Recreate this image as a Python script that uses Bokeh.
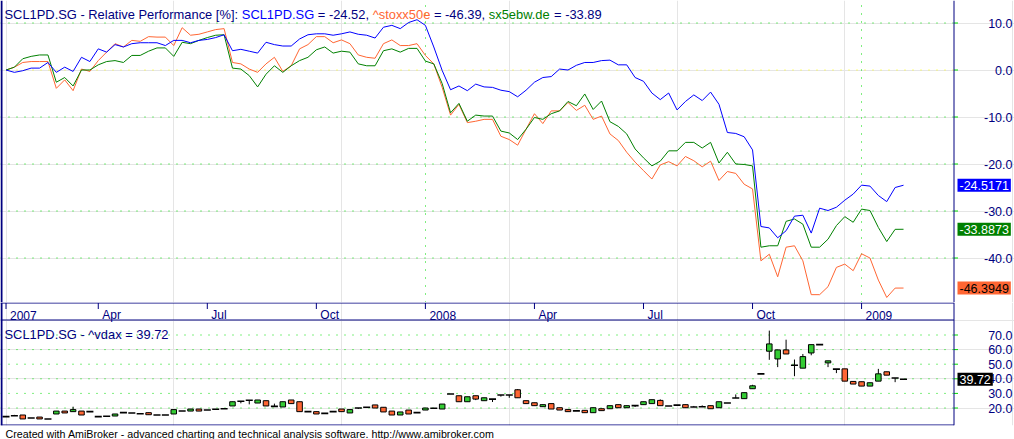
from bokeh.plotting import figure
from bokeh.models import (Range1d, FixedTicker, Span, Label, Grid,
                          ColumnDataSource, Title)
from bokeh.layouts import column
from bokeh.embed import file_html
from bokeh.resources import INLINE
from bokeh.core.properties import value

# ---------------- data ----------------
tick_idx = [0, 11, 24, 37, 50, 63, 76, 89, 102]
tick_labels = ["2007", "Apr", "Jul", "Oct", "2008", "Apr", "Jul", "Oct", "2009"]
year_idx = [50, 102]

perf_ticks = [10, 0, -10, -20, -30, -40]
vdax_ticks = [20, 30, 40, 50, 60, 70]

scl1pd = [0, -0.5, -0.15, 0.4, 0.4, 1.6, -0.5, 0.6, -0.3, 2.7,
          1.8, 4.5, 3.8, 5.4, 4.9, 5.6, 5.8, 5.8, 5.8, 5.2,
          6.3, 6.3, 5.8, 6.3, 6.5, 6.9, 7.5, 4.1, 4.4, 4.0,
          3.6, 5.9, 5.4, 5.1, 5.1, 6.6, 7.5, 7.7, 7.7, 7.4,
          7.7, 8.1, 7.6, 7.4, 6.8, 9.1, 9.5, 8.8, 10.1, 10.7,
          9.5, 4.9, -0.1, -4.2, -3.4, -4.4, -3.0, -3.6, -3.7, -4.3,
          -4.6, -5.7, -4.3, -2.6, -1.6, -1.4, 0.2, 0.0, 1.0, 1.6,
          1.6, 2.0, 2.1, 1.1, 1.1, -1.6, -2.4, -4.9, -6.3, -4.9,
          -8.5, -6.7, -5.3, -6.5, -4.7, -7.3, -13.3, -13.5, -14.2, -17.0,
          -33.3, -33.6, -35.7, -34.2, -31.1, -30.9, -34.7, -29.4, -29.9, -29.2,
          -27.7, -26.4, -24.5, -24.7, -26.7, -28.0, -25.0, -24.5171]

stoxx50e = [0, 0.6, 1.6, 1.8, 1.8, 1.8, -3.9, -2.1, -4.4, 0.2,
            -0.3, 2.0, 3.8, 5.6, 4.9, 6.3, 6.1, 7.1, 7.0, 7.0,
            5.2, 9.0, 7.4, 7.6, 8.1, 8.6, 8.8, 1.6, 1.3, 0.2,
            -0.5, 1.3, 2.7, -0.3, 0.9, 4.5, 5.4, 7.1, 7.1, 5.8,
            6.4, 5.6, 3.2, 2.7, 2.5, 5.6, 6.4, 5.2, 5.2, 5.6,
            3.1, 1.3, -3.7, -9.6, -7.3, -11.2, -10.9, -10.5, -10.5, -14.1,
            -14.8, -16.0, -12.6, -9.3, -11.4, -8.7, -8.7, -6.9, -8.6, -7.5,
            -10.5, -9.8, -13.6, -15.0, -17.5, -19.6, -21.4, -23.2, -20.2, -19.5,
            -20.4, -18.4, -19.3, -20.6, -19.4, -23.5, -21.6, -22.0, -24.3, -25.3,
            -40.6, -39.2, -44.0, -37.7, -37.4, -40.6, -47.8, -47.8, -46.1, -42.0,
            -41.3, -42.7, -39.1, -40.0, -44.7, -48.4, -46.4, -46.3949]

sx5ebw = [0, 0.6, 2.4, 2.9, 3.2, 3.2, -2.6, -1.6, -3.4, 0.0,
          0.0, 1.1, 1.8, 2.0, 1.6, 3.1, 3.1, 4.0, 4.7, 4.7,
          2.9, 5.9, 5.6, 6.3, 6.9, 7.4, 7.5, 0.4, 0.2, -1.2,
          -3.6, -0.9, 0.9, -0.5, 0.9, 2.0, 2.7, 4.3, 4.9, 3.6,
          4.0, 3.8, 1.3, 0.9, 0.9, 4.1, 4.5, 3.8, 4.6, 4.6,
          1.9, 1.3, -2.9, -9.1, -7.1, -10.9, -9.6, -9.8, -9.8, -13.0,
          -13.4, -14.8, -12.6, -10.1, -10.5, -9.3, -8.7, -6.7, -7.6, -5.1,
          -8.4, -6.6, -11.0, -12.0, -13.6, -16.8, -18.7, -20.4, -19.4, -17.2,
          -17.2, -15.4, -15.4, -16.6, -15.4, -19.8, -17.5, -20.0, -20.1, -20.4,
          -37.7, -37.4, -37.4, -32.2, -31.7, -32.8, -37.7, -37.7, -36.0, -33.1,
          -31.2, -32.4, -29.6, -29.9, -33.5, -36.5, -33.9, -33.8873]

vdax_open = [14.1, 14.7, 15.2, 13.2, 13.8, 12.5, 15.9, 17.9, 17.5, 17.9,
             17.5, 14.1, 14.3, 14.5, 16.8, 16.6, 16.1, 16.8, 15.2, 15.2,
             15.9, 17.9, 17.9, 19.3, 18.6, 19.1, 19.5, 21.4, 24.6, 25.3,
             23.4, 25.0, 21.1, 20.7, 25.5, 24.3, 17.5, 17.5, 16.3, 17.5,
             19.3, 16.6, 20.0, 20.5, 22.1, 20.5, 17.9, 15.2, 18.6, 16.8,
             18.6, 19.8, 19.3, 29.6, 28.4, 24.3, 28.4, 25.0, 26.1, 28.9,
             28.9, 32.5, 25.0, 23.6, 20.9, 23.0, 20.2, 18.9, 18.0, 18.4,
             16.8, 19.5, 19.5, 22.3, 20.2, 21.6, 22.3, 23.0, 25.2, 21.4,
             22.0, 22.3, 20.7, 20.9, 21.6, 20.2, 23.4, 26.8, 26.4, 33.2,
             43.4, 58.9, 53.6, 59.8, 49.3, 47.3, 57.7, 63.4, 50.9, 46.6,
             46.8, 38.2, 38.0, 35.0, 38.4, 44.8, 40.5, 39.72]
vdax_high = [14.1, 15.3, 15.2, 13.2, 13.8, 12.5, 17.9, 17.9, 20.9, 17.9,
             17.5, 14.1, 14.3, 15.9, 16.8, 16.6, 16.1, 16.8, 15.2, 15.2,
             18.9, 17.9, 19.3, 19.3, 18.6, 19.1, 19.5, 24.3, 24.6, 25.3,
             25.5, 25.0, 23.0, 24.3, 25.5, 24.3, 17.5, 17.5, 16.3, 17.5,
             19.3, 18.9, 20.0, 20.5, 22.1, 20.5, 17.9, 17.3, 18.6, 16.8,
             20.0, 19.8, 22.7, 29.6, 28.4, 27.7, 28.4, 27.0, 26.1, 28.9,
             28.9, 33.0, 25.0, 23.6, 22.3, 23.0, 20.2, 18.9, 18.0, 18.4,
             20.2, 19.5, 21.6, 22.3, 21.6, 21.6, 24.3, 25.7, 25.9, 21.4,
             22.0, 22.3, 21.4, 21.8, 21.6, 24.3, 23.4, 29.3, 30.5, 35.9,
             43.4, 73.0, 59.8, 66.8, 53.2, 57.0, 63.4, 63.4, 52.3, 46.6,
             46.8, 38.2, 38.0, 37.3, 46.8, 44.8, 40.5, 39.72]
vdax_low = [14.1, 14.7, 12.5, 13.2, 12.5, 12.5, 15.9, 16.6, 17.5, 15.2,
            17.5, 14.1, 14.3, 14.5, 16.8, 16.6, 16.1, 15.4, 15.2, 15.2,
            15.9, 17.9, 17.9, 17.9, 18.6, 19.1, 19.5, 21.4, 23.2, 22.5,
            23.4, 21.4, 21.1, 20.7, 23.0, 17.5, 17.5, 15.9, 16.3, 17.5,
            17.5, 16.6, 19.3, 20.5, 20.0, 17.3, 15.2, 15.2, 15.9, 16.8,
            18.6, 19.8, 19.3, 29.6, 24.3, 24.3, 25.4, 25.0, 24.1, 27.8,
            27.0, 27.0, 23.0, 21.6, 20.9, 19.3, 18.6, 17.5, 18.0, 16.8,
            16.8, 18.2, 19.5, 20.2, 20.2, 20.7, 22.3, 23.0, 21.6, 21.4,
            22.0, 20.2, 20.7, 20.9, 19.5, 20.2, 23.4, 26.8, 26.4, 33.2,
            43.4, 53.0, 48.0, 57.0, 41.8, 47.3, 56.1, 63.4, 48.0, 43.9,
            38.4, 36.4, 35.0, 35.0, 38.4, 42.5, 37.7, 39.72]
vdax_close = [14.1, 14.7, 12.5, 13.2, 12.5, 12.5, 17.9, 16.6, 18.9, 15.2,
              17.5, 14.1, 14.3, 15.9, 16.8, 16.6, 16.1, 15.4, 15.2, 15.2,
              18.9, 17.9, 19.3, 17.9, 18.6, 19.1, 19.5, 24.3, 24.6, 25.3,
              25.5, 21.4, 21.1, 24.3, 23.0, 17.5, 17.5, 15.9, 16.3, 17.5,
              17.5, 18.9, 20.0, 20.5, 20.0, 17.3, 15.2, 17.3, 15.9, 16.8,
              20.0, 19.8, 22.7, 29.6, 24.3, 27.7, 26.1, 27.0, 26.1, 28.9,
              28.9, 27.0, 23.0, 21.6, 22.3, 19.3, 18.6, 17.5, 18.0, 16.8,
              20.2, 18.2, 21.6, 20.2, 21.6, 21.6, 24.3, 25.7, 21.6, 21.4,
              22.0, 20.2, 20.7, 20.9, 19.5, 24.3, 23.4, 26.8, 30.5, 35.2,
              43.4, 63.9, 59.8, 57.0, 49.3, 55.2, 63.4, 63.4, 52.3, 46.6,
              38.4, 36.4, 35.0, 37.3, 43.4, 42.5, 40.5, 39.72]

# ---------------- styles / layout ----------------
NAVY = "#000080"
BLUE = "#0000FF"
ORANGE = "#FF6633"
DKGREEN = "#008000"
GRID = "#00DD00"
YELLOW = "#FFFF00"
UPFILL = "#33CC33"
FONT = "Liberation Sans"

W = 1014              # whole chart width
PXX = 8.388           # pixels per weekly bar
X_ORIGIN_PX = 5.5     # screen x of the first bar
BORDER_PX = 953.5     # screen x of the chart/scale border line
TOP_H = 302
STRIP_H = 17
PANE_H = 105
FOOT_H = 14

idx = list(range(len(scl1pd)))
X0 = -X_ORIGIN_PX / PXX
XEND = X0 + W / PXX
XR = Range1d(X0, XEND)
XB_LINE = X0 + BORDER_PX / PXX
X_LEFT_LINE = X0 + 1.0 / PXX

# top pane scale: 0 at row 69.5, 4.7 px per percent
TOP_PPU = 4.7
Y_ZERO_PX = 69.5
TOP_YR = Range1d(-(TOP_H - Y_ZERO_PX) / TOP_PPU, Y_ZERO_PX / TOP_PPU)

ARIAL = {' ': 278, '-': 333, '.': 278, ',': 278, ':': 278, '[': 278, ']': 278,
         '%': 889, '^': 469, '=': 584, 'S': 667, 'C': 722, 'L': 556, 'P': 667,
         'D': 722, 'G': 778, 'R': 722, 'a': 556, 'b': 556, 'c': 500, 'd': 556,
         'e': 556, 'f': 278, 'g': 556, 'h': 556, 'i': 222, 'k': 500, 'l': 222,
         'm': 833, 'n': 556, 'o': 556, 'r': 333, 's': 500, 't': 278, 'v': 500,
         'w': 722, 'x': 500, 'y': 500}


def text_w(s, size):
    return sum(ARIAL.get(ch, 556) for ch in s) * size / 1000.0


def value_scale(p, ticks, labels, tick_len_px=4):
    n = len(ticks)
    p.segment(x0=[XB_LINE] * n, y0=ticks, x1=[XB_LINE + tick_len_px / PXX] * n, y1=ticks,
              line_color=GRID, line_width=1)
    p.text(x=[XB_LINE] * n, y=ticks, text=labels, x_offset=58.5, text_align="right",
           text_baseline="middle", text_font=value(FONT), text_font_size="12.5px",
           text_color=NAVY)


def hgrid(p, ticks, color):
    n = len(ticks)
    p.segment(x0=[X0] * n, y0=ticks, x1=[XB_LINE] * n, y1=ticks,
              line_color=color, line_dash="1 7", line_width=1)


# ---------------- top pane ----------------
top = figure(frame_width=W, frame_height=TOP_H, x_range=XR, y_range=TOP_YR,
             output_backend="svg", toolbar_location=None,
             x_axis_location=None, y_axis_location=None,
             min_border=0, outline_line_color=None,
             background_fill_color="white", border_fill_color="white")

top.add_layout(Grid(dimension=0, ticker=FixedTicker(ticks=year_idx),
                    grid_line_color=GRID, grid_line_dash="1 7", grid_line_width=1))
hgrid(top, [t for t in perf_ticks if t != 0], GRID)
hgrid(top, [t for t in perf_ticks if t == 0], YELLOW)
value_scale(top, perf_ticks, ["%.1f" % t for t in perf_ticks])
top.add_layout(Span(location=XB_LINE, dimension="height", line_color=NAVY, line_width=1))
top.add_layout(Span(location=X_LEFT_LINE, dimension="height", line_color=NAVY, line_width=2))

top.line(idx, stoxx50e, line_color=ORANGE, line_width=1)
top.line(idx, sx5ebw, line_color=DKGREEN, line_width=1)
top.line(idx, scl1pd, line_color=BLUE, line_width=1)

title_parts = [
    ("SCL1PD.SG - Relative Performance [%]: ", NAVY),
    ("SCL1PD.SG", BLUE),
    (" = %.2f, " % scl1pd[-1], NAVY),
    ("^stoxx50e", ORANGE),
    (" = %.2f, " % stoxx50e[-1], NAVY),
    ("sx5ebw.de", DKGREEN),
    (" = %.2f" % sx5ebw[-1], NAVY),
]
TSIZE = 12.9
xpos = 4.0
for txt, col in title_parts:
    lead = len(txt) - len(txt.lstrip(" "))
    top.add_layout(Label(x=xpos + text_w(txt[:lead], TSIZE), y=TOP_H - 14,
                         x_units="screen", y_units="screen",
                         text=txt.strip(" "), text_color=col, text_font=FONT,
                         text_font_size="%.1fpx" % TSIZE, text_baseline="alphabetic"))
    xpos += text_w(txt, TSIZE)

for series, bg, fg in [(scl1pd, BLUE, "white"), (sx5ebw, DKGREEN, "white"),
                       (stoxx50e, ORANGE, "black")]:
    top.add_layout(Label(x=XB_LINE, y=series[-1], x_offset=3.5,
                         text="%.4f" % series[-1], text_color=fg, text_font=FONT,
                         text_font_size="12.5px", text_baseline="middle",
                         text_align="left", background_fill_color=bg,
                         background_fill_alpha=1.0, padding=2))

# ---------------- bottom pane (with date strip) ----------------
BOT_PPU = 1.46
V_LO = 20 - 17.0 / BOT_PPU          # pane bottom line (20.0 sits 17 px above it)
V_HI = V_LO + PANE_H / BOT_PPU
Y_TOP = V_HI + STRIP_H / BOT_PPU

bot = figure(frame_width=W, frame_height=PANE_H + STRIP_H + 1, x_range=XR,
             y_range=Range1d(V_LO - 0.5 / BOT_PPU, Y_TOP + 0.5 / BOT_PPU),
             output_backend="svg", toolbar_location=None,
             x_axis_location=None, y_axis_location=None,
             min_border=0, min_border_bottom=FOOT_H, outline_line_color=None,
             background_fill_color="white", border_fill_color="white")

hgrid(bot, vdax_ticks, GRID)
value_scale(bot, vdax_ticks, ["%.1f" % t for t in vdax_ticks])
bot.segment(x0=[X0] * 3, y0=[Y_TOP, V_HI, V_LO], x1=[XB_LINE] * 3, y1=[Y_TOP, V_HI, V_LO],
            line_color=NAVY, line_width=1)
bot.add_layout(Span(location=XB_LINE, dimension="height", line_color=NAVY, line_width=1))
bot.add_layout(Span(location=X_LEFT_LINE, dimension="height", line_color=NAVY, line_width=2))

# date strip: tick marks + labels
nt = len(tick_idx)
bot.segment(x0=tick_idx, y0=[Y_TOP] * nt, x1=tick_idx, y1=[Y_TOP - 6 / BOT_PPU] * nt,
            line_color=NAVY, line_width=1)
bot.text(x=tick_idx, y=[Y_TOP - 12 / BOT_PPU] * nt, text=tick_labels,
         x_offset=4, text_font=value(FONT), text_font_size="12px",
         text_color=NAVY, text_baseline="alphabetic", text_align="left")

# candles
body = dict(x=[], top=[], bottom=[], color=[])
doji = dict(x0=[], x1=[], y=[])
for i, (o, c) in enumerate(zip(vdax_open, vdax_close)):
    if abs(c - o) < 1e-9:
        doji["x0"].append(i - 0.42)
        doji["x1"].append(i + 0.42)
        doji["y"].append(o)
    else:
        body["x"].append(i)
        body["top"].append(max(o, c))
        body["bottom"].append(min(o, c))
        body["color"].append(UPFILL if c > o else ORANGE)

bot.segment(x0=idx, y0=vdax_high, x1=idx, y1=vdax_low, line_color="black", line_width=1)
bot.vbar(source=ColumnDataSource(body), x="x", top="top", bottom="bottom", width=0.66,
         fill_color="color", line_color="black", line_width=1)
bot.segment(source=ColumnDataSource(doji), x0="x0", y0="y", x1="x1", y1="y",
            line_color="black", line_width=1.6)

bot.add_layout(Label(x=4, y=PANE_H - 13.5, x_units="screen", y_units="screen",
                     text="SCL1PD.SG - ^vdax = %.2f" % vdax_close[-1], text_color=NAVY,
                     text_font=FONT, text_font_size="%.1fpx" % TSIZE,
                     text_baseline="alphabetic"))
bot.add_layout(Label(x=XB_LINE, y=vdax_close[-1], x_offset=3.5,
                     text="%.2f" % vdax_close[-1], text_color="white", text_font=FONT,
                     text_font_size="12.5px", text_baseline="middle", text_align="left",
                     background_fill_color="black", background_fill_alpha=1.0, padding=2))

bot.add_layout(Title(text="Created with AmiBroker - advanced charting and technical analysis "
                          "software. http://www.amibroker.com",
                     align="left", offset=5, standoff=0, text_font=FONT,
                     text_font_size="10.7px", text_font_style="normal",
                     text_color="black"), "below")

layout = column(top, bot, spacing=0)
open("out.html", "w").write(file_html(layout, INLINE))
